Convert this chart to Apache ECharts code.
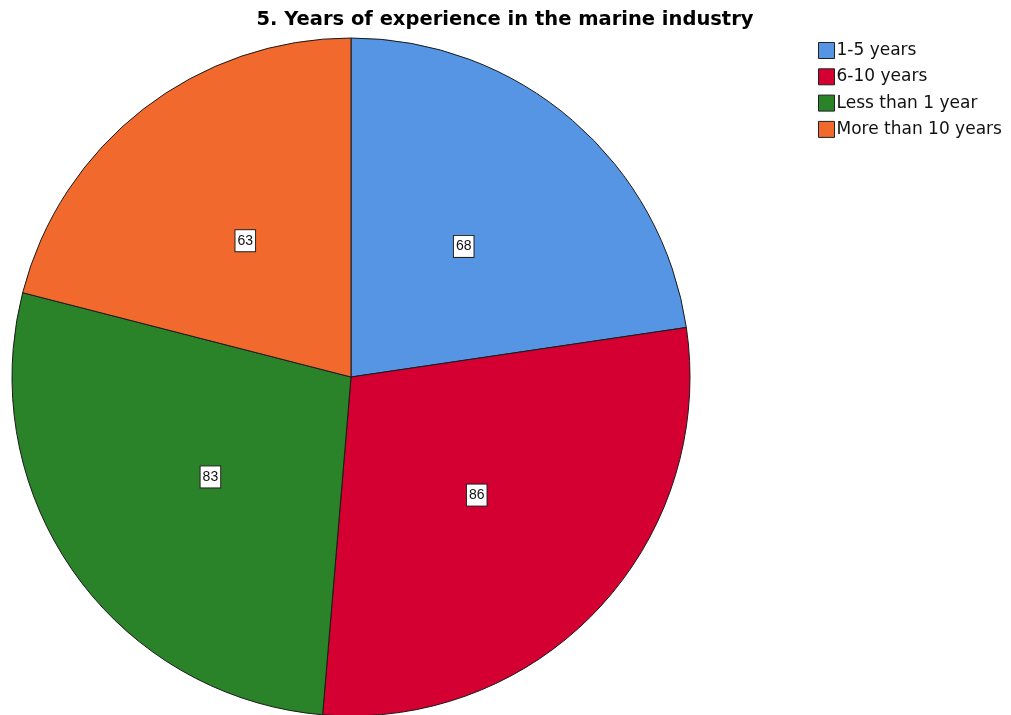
<!DOCTYPE html>
<html>
<head>
<meta charset="utf-8">
<script src="https://cdn.jsdelivr.net/npm/echarts@6/dist/echarts.min.js"></script>
<style>
  html, body { margin: 0; padding: 0; background: #fff; }
  #chart { width: 1011px; height: 715px; }
</style>
</head>
<body>
<div id="chart"></div>
<script>
// Years of experience: categories and respondent counts
const categories = ['1-5 years', '6-10 years', 'Less than 1 year', 'More than 10 years'];
const counts = [68, 86, 83, 63];
const colors = ['#5595e3', '#d50032', '#2a8229', '#f2692d'];

const chart = echarts.init(document.getElementById('chart'), null, { renderer: 'canvas' });

chart.setOption({
  animation: false,
  title: {
    text: '5. Years of experience in the marine industry',
    left: 500,
    textAlign: 'center',
    top: 5,
    textStyle: { fontFamily: 'DejaVu Sans, sans-serif', fontSize: 19.5, fontWeight: 'bold', color: '#000' }
  },
  legend: {
    orient: 'vertical',
    left: 818,
    top: 42,
    padding: 0,
    itemWidth: 16,
    itemHeight: 16,
    itemGap: 9.3,
    icon: 'rect',
    textStyle: { fontFamily: 'DejaVu Sans, sans-serif', fontSize: 17, color: '#111', padding: [0, 0, 0, -3] },
    itemStyle: { borderColor: '#222', borderWidth: 1 },
    data: categories
  },
  series: [{
    type: 'pie',
    center: [351, 377],
    radius: [0, 339],
    startAngle: 90,
    clockwise: true,
    avoidLabelOverlap: false,
    itemStyle: { borderColor: '#1a1a1a', borderWidth: 1 },
    label: {
      show: true,
      position: 'inside',
      formatter: '{c}',
      fontFamily: 'Liberation Sans, Arial, sans-serif',
      fontSize: 14,
      color: '#111',
      backgroundColor: '#fff',
      borderColor: '#222',
      borderWidth: 1,
      padding: [4, 2, 3, 2]
    },
    labelLine: { show: false },
    emphasis: { disabled: true },
    data: categories.map((name, i) => ({ name, value: counts[i], itemStyle: { color: colors[i] } }))
  }]
});
</script>
</body>
</html>
